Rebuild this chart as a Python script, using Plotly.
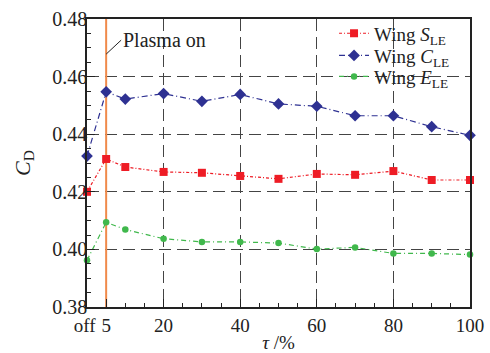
import plotly.graph_objects as go

tau = [0, 5, 10, 20, 30, 40, 50, 60, 70, 80, 90, 100]
cd_S = [0.4200, 0.4314, 0.4286, 0.4269, 0.4266, 0.4255, 0.4245, 0.4262, 0.4259, 0.4272, 0.4241, 0.4241]
cd_C = [0.4324, 0.4547, 0.4522, 0.4541, 0.4514, 0.4538, 0.4505, 0.4497, 0.4464, 0.4464, 0.4426, 0.4396]
cd_E = [0.3962, 0.4094, 0.4069, 0.4037, 0.4026, 0.4026, 0.4022, 0.4001, 0.4007, 0.3986, 0.3986, 0.3982]
x_tickvals = [0, 5, 20, 40, 60, 80, 100]
x_ticktext = ["off\u00a0", "5", "20", "40", "60", "80", "100"]
y_tickvals = [0.38, 0.40, 0.42, 0.44, 0.46, 0.48]
y_range = [0.38, 0.48]
plasma_on = 5

FONT = "Times New Roman, Liberation Serif, DejaVu Serif, serif"

fig = go.Figure()
# plasma-on marker line (drawn first so data lie above it)
fig.add_trace(go.Scatter(
    x=[plasma_on, plasma_on], y=y_range, mode="lines", showlegend=False, hoverinfo="skip",
    line=dict(color="#f08a4b", width=2), cliponaxis=False))
fig.add_trace(go.Scatter(
    x=tau, y=cd_S, mode="lines+markers", name="Wing <i>S</i><sub>LE</sub>", legend="legend",
    line=dict(color="#ee1c25", width=1.2, dash="3px,2px,1px,2px"),
    marker=dict(symbol="square", size=8, color="#ee1c25"), cliponaxis=False))
fig.add_trace(go.Scatter(
    x=tau, y=cd_C, mode="lines+markers", name="Wing <i>C</i><sub>LE</sub>", legend="legend2",
    line=dict(color="#2e3192", width=1.2, dash="6px,3px,1px,3px"),
    marker=dict(symbol="diamond", size=9, color="#2e3192"), cliponaxis=False))
fig.add_trace(go.Scatter(
    x=tau, y=cd_E, mode="lines+markers", name="Wing <i>E</i><sub>LE</sub>", legend="legend3",
    line=dict(color="#40b84c", width=1.2, dash="5px,3px,1px,3px"),
    marker=dict(symbol="circle", size=6.5, color="#40b84c"), cliponaxis=False))

# white panel behind the legend (hides gridlines there)
fig.add_shape(type="rect", xref="paper", yref="paper", x0=0.565, x1=1, y0=0.743, y1=1,
              fillcolor="white", line=dict(width=0), layer="between")

fig.add_annotation(x=plasma_on, y=0.4678, xref="x", yref="y", text="Plasma on",
                   showarrow=True, arrowhead=0, arrowwidth=1, arrowcolor="#222",
                   ax=15, ay=-14, xanchor="left", yanchor="middle",
                   font=dict(family=FONT, size=20, color="#222"))

def leg(yc):
    return dict(x=0.645, xanchor="left", y=yc, yanchor="middle", bgcolor="rgba(0,0,0,0)",
                font=dict(family=FONT, size=19, color="#222"), itemwidth=30, borderwidth=0)

fig.update_layout(
    width=490, height=353,
    margin=dict(l=87, r=20, t=19, b=46, autoexpand=False),
    paper_bgcolor="white", plot_bgcolor="white",
    font=dict(family=FONT, size=19, color="#222"),
    showlegend=True,
    legend=leg(0.950), legend2=leg(0.873), legend3=leg(0.800),
    xaxis=dict(range=[0, 100], tickmode="array", tickvals=x_tickvals, ticktext=x_ticktext,
               tickangle=0,
               ticks="inside", ticklen=8, tickcolor="#222", showline=True, linecolor="#222",
               linewidth=1.5, mirror=True, showgrid=True, gridcolor="#444", griddash="12px,6px",
               gridwidth=1, zeroline=False, automargin=False,
               minor=dict(ticks="inside", dtick=5, tick0=0, ticklen=4, tickcolor="#222", showgrid=False),
               title=dict(text="<i>τ</i> /%", standoff=4, font=dict(family=FONT, size=19)),
               tickfont=dict(family=FONT, size=19)),
    yaxis=dict(range=y_range, tickmode="array", tickvals=y_tickvals, tickformat=".2f",
               ticks="inside", ticklen=8, tickcolor="#222", showline=True, linecolor="#222",
               linewidth=1.5, mirror=True, showgrid=True, gridcolor="#444", griddash="12px,6px",
               gridwidth=1, zeroline=False, ticklabelstandoff=-6, automargin=False,
               minor=dict(ticks="inside", dtick=0.005, tick0=0.38, ticklen=4, tickcolor="#222", showgrid=False),
               title=dict(text="<i>C</i><sub>D</sub>", standoff=16, font=dict(family=FONT, size=22)),
               tickfont=dict(family=FONT, size=20)),
)

fig.write_html("out.html")
